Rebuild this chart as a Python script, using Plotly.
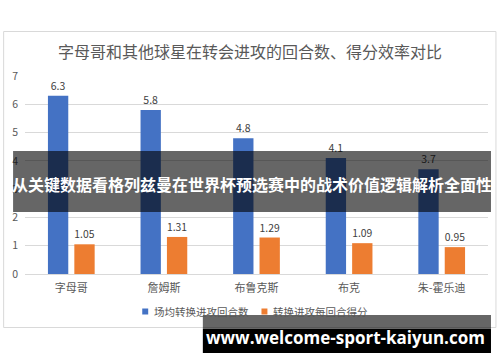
import plotly.graph_objects as go

# Data
players = ["字母哥", "詹姆斯", "布鲁克斯", "布克", "朱-霍乐迪"]
trans_poss = [6.3, 5.8, 4.8, 4.1, 3.7]          # 场均转换进攻回合数
pts_per_poss = [1.05, 1.31, 1.29, 1.09, 0.95]   # 转换进攻每回合得分
series_names = ["场均转换进攻回合数", "转换进攻每回合得分"]
y_ticks = [0, 1, 2, 3, 4, 5, 6, 7]

BLUE = "#4472C4"
ORANGE = "#ED7D31"
GRAY_TXT = "#595959"
CJK = "Noto Sans CJK SC"

W, H = 500, 362
ML, MR, MT, MB = 22, 12, 76, 88
PW = W - ML - MR
PH = H - MT - MB


def px(x):
    return (x - ML) / PW


def py(y):
    return (H - MB - y) / PH


fig = go.Figure()
for vals, name, col in [(trans_poss, series_names[0], BLUE),
                        (pts_per_poss, series_names[1], ORANGE)]:
    fig.add_trace(go.Bar(
        x=players, y=vals, name=name, marker_color=col,
        marker_line_width=0,
        text=[f"{v:g}" for v in vals], textposition="outside",
        textfont=dict(size=10.5, color="#404040", family=CJK),
        cliponaxis=False, showlegend=False,
    ))

shapes = [
    # chart frame
    dict(type="rect", xref="paper", yref="paper", x0=px(0.5), x1=px(496),
         y0=py(31.5), y1=py(327.5), line=dict(color="#d9d9d9", width=1),
         fillcolor="rgba(0,0,0,0)", layer="below"),
    # legend swatches
    dict(type="rect", xref="paper", yref="paper", x0=px(140), x1=px(146),
         y0=py(308.5), y1=py(314.5), fillcolor=BLUE, line_width=0),
    dict(type="rect", xref="paper", yref="paper", x0=px(260), x1=px(266),
         y0=py(308.5), y1=py(314.5), fillcolor=ORANGE, line_width=0),
    # headline band
    dict(type="rect", xref="paper", yref="paper", x0=px(10), x1=px(491),
         y0=py(151), y1=py(212), fillcolor="rgba(0,0,0,0.6)", line_width=0,
         layer="above"),
    # site banner
    dict(type="rect", xref="paper", yref="paper", x0=px(201), x1=px(491),
         y0=py(315), y1=py(329), fillcolor="rgba(0,0,0,0.6)", line_width=0,
         layer="above"),
    dict(type="rect", xref="paper", yref="paper", x0=px(201), x1=px(491),
         y0=py(329), y1=py(353), fillcolor="#000000", line_width=0,
         layer="above"),
]

annotations = [
    dict(text=series_names[0], xref="paper", yref="paper", x=px(150), y=py(311.5),
         xanchor="left", yanchor="middle", showarrow=False,
         font=dict(size=10.5, color=GRAY_TXT, family=CJK)),
    dict(text=series_names[1], xref="paper", yref="paper", x=px(270), y=py(311.5),
         xanchor="left", yanchor="middle", showarrow=False,
         font=dict(size=10.5, color=GRAY_TXT, family=CJK)),
    dict(text="<b>从关键数据看格列兹曼在世界杯预选赛中的战术价值逻辑解析全面性</b>",
         xref="paper", yref="paper", x=px(250), y=py(184),
         xanchor="center", yanchor="middle", showarrow=False,
         font=dict(size=16, color="#ffffff", family=CJK)),
    dict(text="<b>www.welcome-sport-kaiyun.com</b>",
         xref="paper", yref="paper", x=px(345), y=py(337),
         xanchor="center", yanchor="middle", showarrow=False,
         font=dict(size=17, color="#ffffff", family="Open Sans")),
]

fig.update_layout(
    width=W, height=H,
    margin=dict(l=ML, r=MR, t=MT, b=MB),
    paper_bgcolor="#ffffff", plot_bgcolor="#ffffff",
    barmode="group", bargap=0.43, bargroupgap=0.23,
    title=dict(text="字母哥和其他球星在转会进攻的回合数、得分效率对比",
               x=0.5, xref="container", xanchor="center",
               y=1 - 52 / H, yref="container", yanchor="middle",
               font=dict(size=16, color=GRAY_TXT, family=CJK)),
    xaxis=dict(showgrid=False, showline=False, ticks="",
               ticklabelstandoff=6,
               tickfont=dict(size=11, color=GRAY_TXT, family=CJK)),
    yaxis=dict(range=[0, 7], tickvals=y_ticks, showgrid=True,
               gridcolor="#d9d9d9", gridwidth=1, zeroline=True,
               zerolinecolor="#d9d9d9", zerolinewidth=1, ticks="",
               ticklabelstandoff=6,
               tickfont=dict(size=10.5, color=GRAY_TXT, family=CJK)),
    shapes=shapes, annotations=annotations, showlegend=False,
)

fig.write_html("out.html")
